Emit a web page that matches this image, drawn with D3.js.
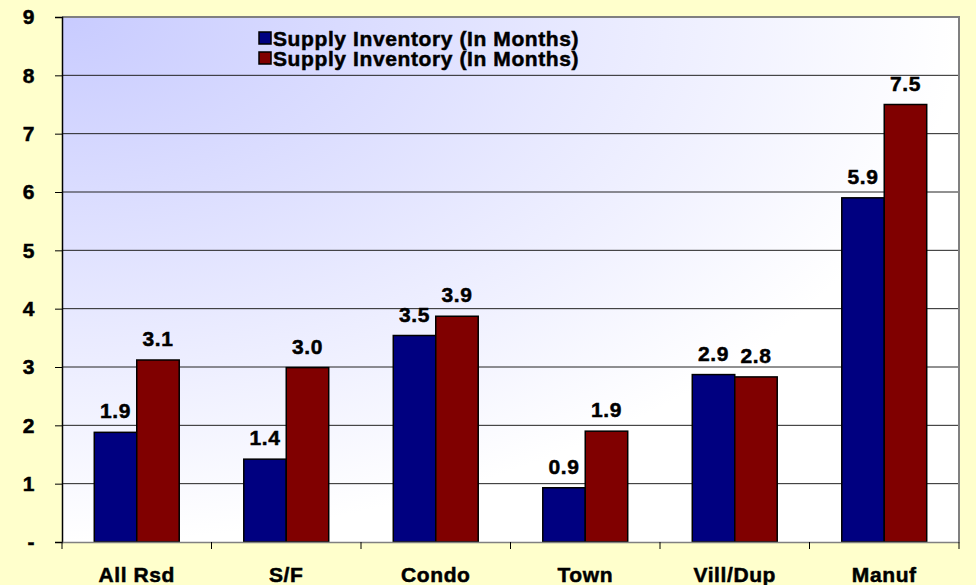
<!DOCTYPE html>
<html>
<head>
<meta charset="utf-8">
<script src="https://cdn.jsdelivr.net/npm/d3@7"></script>
<style>
    html, body { margin: 0; padding: 0; background: #FFFFCC; }
    svg { display: block; }
    text { font-family: "Liberation Sans", Arial, sans-serif; font-weight: bold; font-size: 21px; letter-spacing: 0.6px; fill: #000; stroke: #000; stroke-width: 0.5px; }
</style>
</head>
<body>
<svg id="chart"></svg>
<script>
var categories = ["All Rsd", "S/F", "Condo", "Town", "Vill/Dup", "Manuf"];
var seriesNames = ["Supply Inventory (In Months)", "Supply Inventory (In Months)"];
var blueValues = [1.88, 1.42, 3.54, 0.93, 2.87, 5.90];
var redValues = [3.12, 2.99, 3.87, 1.90, 2.83, 7.50];
var yTicks = [0, 1, 2, 3, 4, 5, 6, 7, 8, 9];
var yTickLabels = ["-", "1", "2", "3", "4", "5", "6", "7", "8", "9"];
var colors = ["#000080", "#800000"];

var totalW = 976, totalH = 585;
var margin = {top: 17, right: 17, bottom: 43, left: 62};
var width = totalW - margin.left - margin.right,
    height = totalH - margin.top - margin.bottom;

var root = d3.select("#chart").attr("width", totalW).attr("height", totalH);

// plot-area fill
var defs = root.append("defs");
var grad = defs.append("radialGradient")
    .attr("id", "plotFill")
    .attr("cx", 0).attr("cy", 0).attr("fx", 0).attr("fy", 0).attr("r", 1);
grad.append("stop").attr("offset", "0%").attr("stop-color", "#C8CBFF");
grad.append("stop").attr("offset", "100%").attr("stop-color", "#FFFFFF");

var svg = root.append("g")
    .attr("transform", "translate(" + margin.left + "," + margin.top + ")");

svg.append("rect")
    .attr("width", width).attr("height", height)
    .attr("fill", "url(#plotFill)");

var x0 = d3.scaleBand().domain(categories).range([0, width]).paddingInner(0).paddingOuter(0);
var x1 = d3.scaleBand().domain([0, 1]).range([0, x0.bandwidth()]).paddingInner(0).paddingOuter(0.76);
var y = d3.scaleLinear().domain([0, 9]).range([height, 0]);

// grid lines
svg.append("g").selectAll("line")
    .data(yTicks.filter(function (d) { return d > 0 && d < 9; }))
    .enter().append("line")
    .attr("x1", 0).attr("x2", width)
    .attr("y1", function (d) { return y(d); })
    .attr("y2", function (d) { return y(d); })
    .attr("stroke", "#222").attr("stroke-width", 1);

// top and right border
svg.append("line").attr("x1", 0).attr("x2", width + 1).attr("y1", 0).attr("y2", 0)
    .attr("stroke", "#808080").attr("stroke-width", 2);
svg.append("line").attr("x1", width).attr("x2", width).attr("y1", 0).attr("y2", height)
    .attr("stroke", "#808080").attr("stroke-width", 2);

// bars
var data = categories.map(function (c, i) { return {cat: c, vals: [blueValues[i], redValues[i]]}; });
var groups = svg.selectAll(".grp")
    .data(data)
    .enter().append("g")
    .attr("class", "grp")
    .attr("transform", function (d) { return "translate(" + x0(d.cat) + ",0)"; });

groups.selectAll("rect")
    .data(function (d) { return d.vals; })
    .enter().append("rect")
    .attr("x", function (d, i) { return x1(i); })
    .attr("y", function (d) { return y(d); })
    .attr("width", x1.bandwidth())
    .attr("height", function (d) { return height - y(d); })
    .attr("fill", function (d, i) { return colors[i]; })
    .attr("stroke", "#000").attr("stroke-width", 1.5);

groups.selectAll(".bar-label")
    .data(function (d) { return d.vals; })
    .enter().append("text")
    .attr("class", "bar-label")
    .attr("text-anchor", "middle")
    .attr("x", function (d, i) { return x1(i) + x1.bandwidth() / 2; })
    .attr("y", function (d) { return y(d) - 14; })
    .text(function (d) { return d3.format(".1f")(d); });

// y axis
var gy = svg.append("g")
    .call(d3.axisLeft(y).tickValues(yTicks).tickSize(7).tickPadding(20)
        .tickFormat(function (d, i) { return yTickLabels[i]; }));
gy.attr("font-size", null).attr("font-family", null);
gy.select(".domain").attr("stroke", "#000").attr("stroke-width", 1.5);
gy.selectAll(".tick line").attr("stroke", "#000");
gy.selectAll("text").style("fill", "#000");

// x axis
var gx = svg.append("g")
    .attr("transform", "translate(0," + height + ")")
    .call(d3.axisBottom(x0).tickSize(0).tickPadding(25));
gx.attr("font-size", null).attr("font-family", null);
gx.select(".domain").attr("stroke", "#808080").attr("stroke-width", 1.5);
gx.selectAll("text").style("fill", "#000");

var bounds = categories.map(function (c) { return x0(c); }).concat([width]);
gx.selectAll(".xtick")
    .data(bounds)
    .enter().append("line")
    .attr("class", "xtick")
    .attr("x1", function (d) { return d; }).attr("x2", function (d) { return d; })
    .attr("y1", 0).attr("y2", 7)
    .attr("stroke", "#000");

// legend
var legend = root.append("g").attr("transform", "translate(259,32)");
var items = legend.selectAll(".item")
    .data(seriesNames)
    .enter().append("g")
    .attr("class", "item")
    .attr("transform", function (d, i) { return "translate(0," + (i * 20) + ")"; });
items.append("rect")
    .attr("width", 12).attr("height", 12)
    .attr("fill", function (d, i) { return colors[i]; })
    .attr("stroke", "#000").attr("stroke-width", 1.5);
items.append("text")
    .attr("x", 14).attr("y", 14)
    .text(function (d) { return d; });
</script>
</body>
</html>
